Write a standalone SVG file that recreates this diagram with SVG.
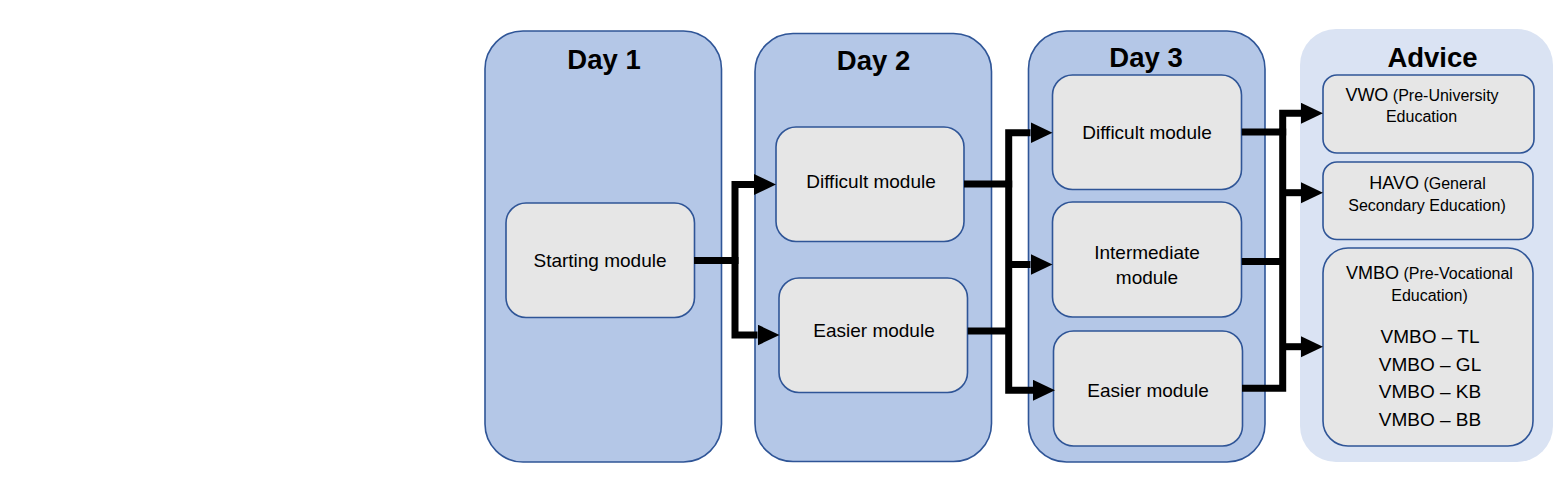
<svg xmlns="http://www.w3.org/2000/svg" width="1553" height="495" viewBox="0 0 1553 495">
<style>
.day{fill:#b4c7e7;stroke:#2f5597;stroke-width:1.6}
.adv{fill:#dae3f3;stroke:none}
.mod{fill:#e6e6e6;stroke:#2f5597;stroke-width:1.6}
.title{font-family:"Liberation Sans",Arial,sans-serif;font-weight:bold;font-size:27.5px;fill:#000;text-anchor:middle}
.lbl{font-family:"Liberation Sans",Arial,sans-serif;font-size:19px;fill:#000;text-anchor:middle}
.big{font-size:18px}
.small{font-size:16px}
.con{fill:none;stroke:#000;stroke-width:7;stroke-linejoin:miter;stroke-linecap:butt}
</style>
<defs>
<marker id="ah" markerUnits="userSpaceOnUse" markerWidth="23" markerHeight="22" refX="0" refY="10.5" orient="auto">
<path d="M0,0 L22,10.5 L0,21 z" fill="#000"/>
</marker>
</defs>
<rect width="1553" height="495" fill="#fff"/>

<g id="day1">
<rect class="day" x="485" y="31" width="236.5" height="431" rx="38"/>
<text class="title" x="604" y="68.5">Day 1</text>
</g>
<g id="day2">
<rect class="day" x="755" y="33.5" width="236.5" height="428" rx="38"/>
<text class="title" x="873.5" y="70">Day 2</text>
</g>
<g id="day3">
<rect class="day" x="1028.5" y="31" width="236.5" height="431" rx="38"/>
<text class="title" x="1146" y="67">Day 3</text>
</g>
<g id="advice">
<rect class="adv" x="1300" y="29" width="253" height="433" rx="36"/>
<text class="title" x="1432.5" y="67">Advice</text>
</g>

<g id="starting-module">
<rect class="mod" x="506" y="203" width="188.5" height="114.5" rx="20"/>
<text class="lbl" x="600" y="266.5">Starting module</text>
</g>
<g id="day2-difficult">
<rect class="mod" x="776" y="127" width="188" height="114.5" rx="20"/>
<text class="lbl" x="871" y="187.5">Difficult module</text>
</g>
<g id="day2-easier">
<rect class="mod" x="779" y="278" width="188.5" height="114.5" rx="20"/>
<text class="lbl" x="874" y="336.5">Easier module</text>
</g>
<g id="day3-difficult">
<rect class="mod" x="1052.5" y="75" width="189" height="114.5" rx="20"/>
<text class="lbl" x="1147" y="138.5">Difficult module</text>
</g>
<g id="day3-intermediate">
<rect class="mod" x="1052.5" y="202" width="189" height="115" rx="20"/>
<text class="lbl" x="1147" y="258.5">Intermediate</text>
<text class="lbl" x="1147" y="283.5">module</text>
</g>
<g id="day3-easier">
<rect class="mod" x="1053.5" y="331" width="189" height="115" rx="20"/>
<text class="lbl" x="1148" y="396.5">Easier module</text>
</g>
<g id="vwo">
<rect class="mod" x="1323" y="75" width="211" height="78" rx="14"/>
<text class="lbl" x="1422" y="101"><tspan class="big">VWO</tspan><tspan class="small"> (Pre-University</tspan></text>
<text class="lbl small" x="1421.5" y="122">Education</text>
</g>
<g id="havo">
<rect class="mod" x="1323" y="162" width="210" height="77.5" rx="14"/>
<text class="lbl" x="1427.5" y="188.5"><tspan class="big">HAVO</tspan><tspan class="small"> (General</tspan></text>
<text class="lbl small" x="1427" y="210.5">Secondary Education)</text>
</g>
<g id="vmbo">
<rect class="mod" x="1323" y="248" width="210" height="198" rx="25"/>
<text class="lbl" x="1429.5" y="279"><tspan class="big">VMBO</tspan><tspan class="small"> (Pre-Vocational</tspan></text>
<text class="lbl small" x="1429.5" y="301">Education)</text>
<text class="lbl" x="1430" y="343">VMBO – TL</text>
<text class="lbl" x="1430" y="370.5">VMBO – GL</text>
<text class="lbl" x="1430" y="398">VMBO – KB</text>
<text class="lbl" x="1430" y="425.5">VMBO – BB</text>
</g>

<g id="connectors">
<path class="con" d="M694,260.5 H735 V184.5 H754" marker-end="url(#ah)"/>
<path class="con" d="M735,257 V335 H757.5" marker-end="url(#ah)"/>

<path class="con" d="M964,184 H1008.7 V132.7 H1030.5" marker-end="url(#ah)"/>
<path class="con" d="M1008.7,180.5 V390.3 H1033" marker-end="url(#ah)"/>
<path class="con" d="M967.7,331 H1008.7"/>
<path class="con" d="M1008.7,264.5 H1030.5" marker-end="url(#ah)"/>

<path class="con" d="M1241.7,132 H1282.7 V113.3 H1301" marker-end="url(#ah)"/>
<path class="con" d="M1242,388.2 H1282.7 V128.5"/>
<path class="con" d="M1241.7,261.5 H1282.7"/>
<path class="con" d="M1282.7,192.7 H1301" marker-end="url(#ah)"/>
<path class="con" d="M1282.7,346.7 H1301" marker-end="url(#ah)"/>
</g>
</svg>
